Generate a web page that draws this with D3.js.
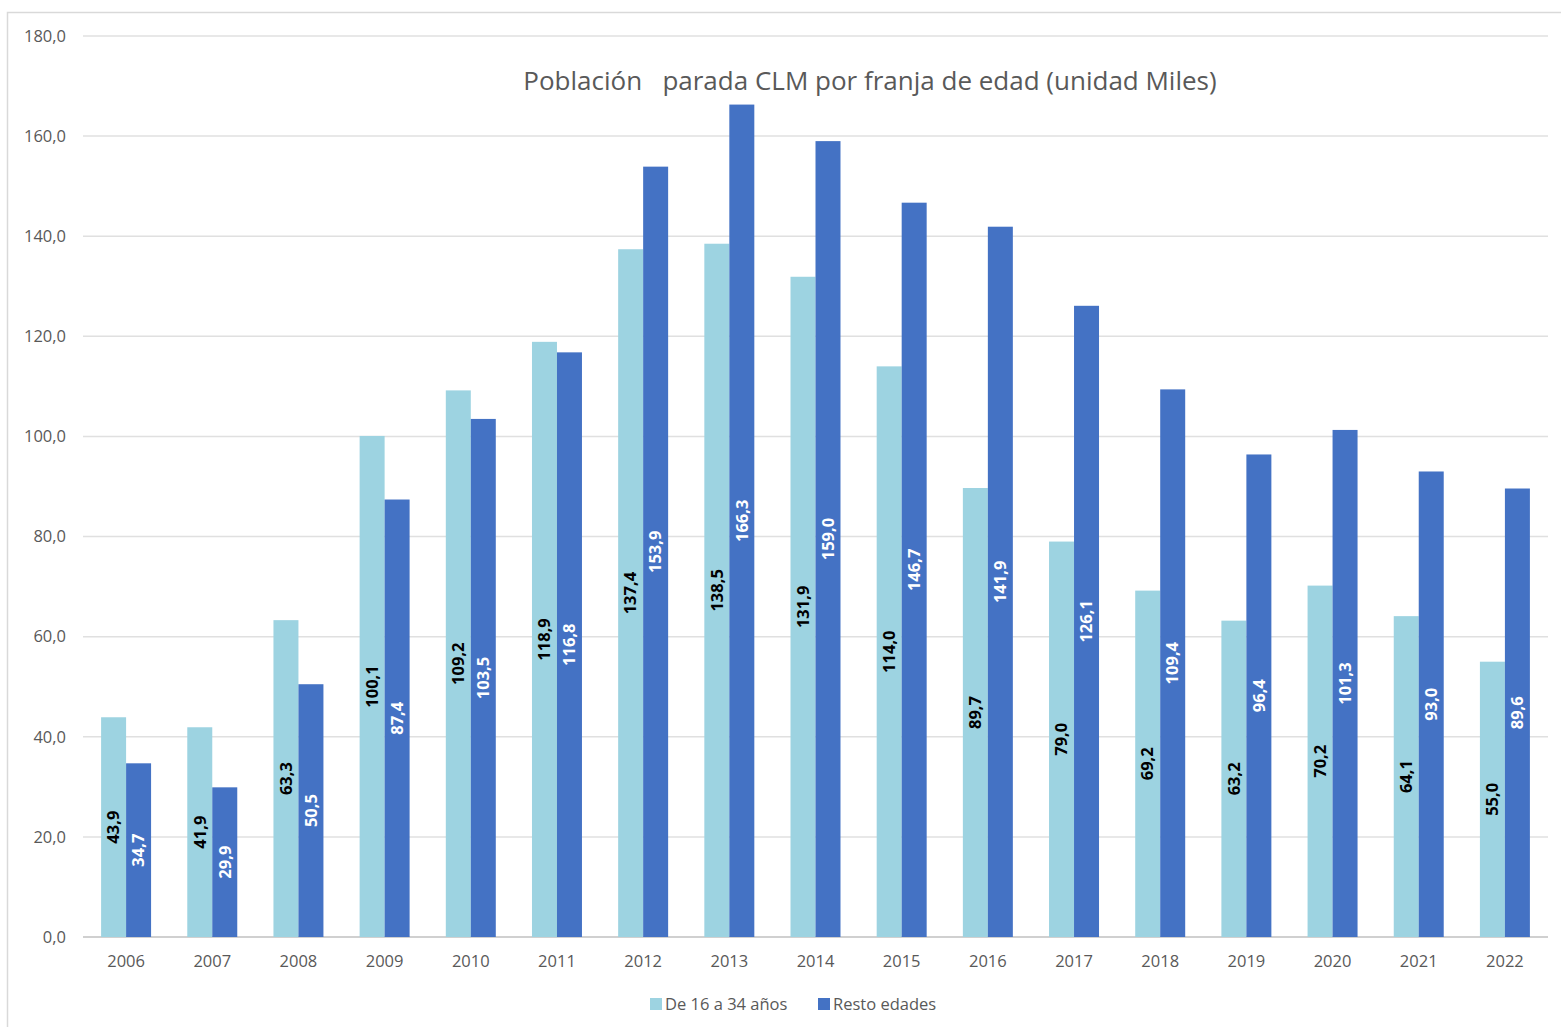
<!DOCTYPE html>
<html><head><meta charset="utf-8">
<script src="https://cdn.jsdelivr.net/npm/d3@7"></script>
<style>
body{margin:0;background:#fff;}
svg{display:block;}
</style></head>
<body><svg id="c" width="1561" height="1027"></svg>
<script>
const years = ["2006","2007","2008","2009","2010","2011","2012","2013","2014","2015","2016","2017","2018","2019","2020","2021","2022"];
const young = [43.9,41.9,63.3,100.1,109.2,118.9,137.4,138.5,131.9,114.0,89.7,79.0,69.2,63.2,70.2,64.1,55.0];
const rest = [34.7,29.9,50.5,87.4,103.5,116.8,153.9,166.3,159.0,146.7,141.9,126.1,109.4,96.4,101.3,93.0,89.6];
const seriesNames = ["De 16 a 34 años","Resto edades"];
const seriesColors = ["#9dd3e1","#4472c4"];
const labelColors = ["#000000","#ffffff"];
const yTicks = [0,20,40,60,80,100,120,140,160,180];
const title = "Población   parada CLM por franja de edad (unidad Miles)";

const svg = d3.select("#c");
const font = "'Open Sans', 'Noto Sans', sans-serif";
svg.append("rect").attr("x",7.5).attr("y",12.5).attr("width",1560).attr("height",1030)
  .attr("fill","#fff").attr("stroke","#d9d9d9").attr("stroke-width",1.5);

const L=83,R=1548,T=36,B=937;
const x = d3.scaleBand().domain(years).range([L,R]).paddingInner(0.42).paddingOuter(0.21);
const xs = d3.scaleBand().domain([0,1]).range([0,x.bandwidth()]);
const y = d3.scaleLinear().domain([0,180]).range([B,T]);

// gridlines
svg.append("g").selectAll("line").data(yTicks).join("line")
  .attr("x1",L).attr("x2",R).attr("y1",d=>y(d)).attr("y2",d=>y(d))
  .attr("stroke",d=>d===0?"#d0d0d0":"#e0e0e0").attr("stroke-width",d=>d===0?2:1.5);

const yAxis = svg.append("g").attr("transform",`translate(${L},0)`)
  .call(d3.axisLeft(y).tickValues(yTicks).tickSize(0).tickPadding(17)
    .tickFormat(d=>d3.format(".1f")(d).replace(".",",")));
yAxis.select(".domain").remove();
yAxis.selectAll("text").attr("font-family",font).attr("font-size",16.5).attr("fill","#595959");

const xAxis = svg.append("g").attr("transform",`translate(0,${B})`)
  .call(d3.axisBottom(x).tickSize(0).tickPadding(18));
xAxis.select(".domain").remove();
xAxis.selectAll("text").attr("font-family",font).attr("font-size",16.5).attr("fill","#595959");

const data = years.map((yr,i)=>({yr, vals:[young[i],rest[i]]}));
const grp = svg.append("g").selectAll("g").data(data).join("g")
  .attr("transform",d=>`translate(${x(d.yr)},0)`);
grp.selectAll("rect").data(d=>d.vals.map((v,k)=>({v,k}))).join("rect")
  .attr("x",d=>xs(d.k)).attr("width",xs.bandwidth())
  .attr("y",d=>y(d.v)).attr("height",d=>B-y(d.v))
  .attr("fill",d=>seriesColors[d.k]);
grp.selectAll("text").data(d=>d.vals.map((v,k)=>({v,k}))).join("text")
  .attr("transform",d=>`translate(${xs(d.k)+xs.bandwidth()/2},${(y(d.v)+B)/2}) rotate(-90)`)
  .attr("text-anchor","middle").attr("dy","0.35em")
  .attr("font-family",font).attr("font-size",16.5).attr("font-weight","bold")
  .attr("fill",d=>labelColors[d.k])
  .text(d=>d3.format(".1f")(d.v).replace(".",","));

svg.append("text").attr("x",870).attr("y",90).attr("text-anchor","middle")
  .attr("font-family",font).attr("font-size",26).attr("fill","#595959")
  .style("white-space","pre").attr("xml:space","preserve").text(title);

// legend
const leg = svg.append("g");
const legX=[650,818];
seriesNames.forEach((n,i)=>{
  leg.append("rect").attr("x",legX[i]).attr("y",998).attr("width",12).attr("height",12).attr("fill",seriesColors[i]);
  leg.append("text").attr("x",legX[i]+15).attr("y",1010).attr("font-family",font).attr("font-size",16.5)
    .attr("fill","#595959").text(n);
});
</script></body></html>
